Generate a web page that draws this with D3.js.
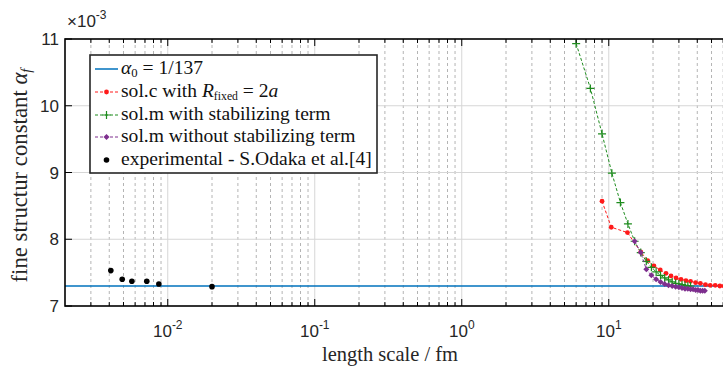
<!DOCTYPE html>
<html><head><meta charset="utf-8">
<script src="https://cdn.jsdelivr.net/npm/d3@7"></script>
<style>body{margin:0;background:#fff}</style>
</head><body>
<svg id="chart" width="723" height="372"></svg>
<script>
// values of the fine structure constant are in units of 1e-3
const alpha0 = 1000 / 137;

const expX = [0.0041, 0.0049, 0.0057, 0.0072, 0.0087, 0.020];
const expY = [7.53, 7.40, 7.37, 7.37, 7.33, 7.29];

const solCX = [9, 10.4, 13.4, 16.5, 18.4, 20.3, 22.4, 24.5, 26.5, 28.7, 31, 33.5, 36, 39, 42, 45.5, 49, 53, 57, 61];
const solCY = [8.57, 8.18, 8.10, 7.81, 7.68, 7.60, 7.54, 7.49, 7.45, 7.42, 7.40, 7.38, 7.37, 7.35, 7.34, 7.32, 7.31, 7.31, 7.30, 7.30];

const solMX = [6, 7.5, 9, 10.5, 12, 13.5, 15, 16.5, 18, 19.5, 21, 22.5, 24, 25.5, 27, 28.5, 30, 31.5, 33, 34.5, 36];
const solMY = [10.93, 10.26, 9.58, 8.99, 8.55, 8.23, 7.97, 7.80, 7.67, 7.58, 7.51, 7.46, 7.42, 7.39, 7.36, 7.34, 7.33, 7.32, 7.31, 7.30, 7.30];

const solM0X = [15, 16.5, 18, 19.5, 21, 22.5, 24, 25.5, 27, 28.5, 30, 31.5, 33, 34.5, 36, 37.5, 39, 40.5, 42, 43.5, 45];
const solM0Y = [7.97, 7.80, 7.55, 7.46, 7.40, 7.36, 7.33, 7.31, 7.30, 7.29, 7.28, 7.27, 7.26, 7.26, 7.25, 7.25, 7.24, 7.24, 7.23, 7.23, 7.23];

const yTicks = [7, 8, 9, 10, 11];
const xDecades = [-2, -1, 0, 1];

const C = {blue: "#0072BD", red: "#FF1A1A", green: "#1E8C1E", purple: "#7E2F8E", black: "#000"};

const svg = d3.select("#chart");
const L = 65, T = 39, B = 306, R = 733;
const x = d3.scaleLog().domain([0.002, 70]).range([L, R]);
const y = d3.scaleLinear().domain([7, 11]).range([B, T]);

svg.append("clipPath").attr("id", "plotclip")
  .append("rect").attr("x", L).attr("y", T).attr("width", R - L).attr("height", B - T);

const grid = svg.append("g");
// minor vertical grid (dotted)
const minor = [];
for (let e = -3; e <= 1; e++) for (let m = 2; m <= 9; m++) {
  const v = m * Math.pow(10, e);
  if (v > 0.002 && v < 70) minor.push(v);
}
grid.selectAll(".mg").data(minor).join("line")
  .attr("x1", d => x(d)).attr("x2", d => x(d)).attr("y1", T).attr("y2", B)
  .attr("stroke", "#b4b4b4").attr("stroke-width", 1).attr("stroke-dasharray", "3,3");
// major grid
grid.selectAll(".Mg").data(xDecades).join("line")
  .attr("x1", d => x(Math.pow(10, d))).attr("x2", d => x(Math.pow(10, d))).attr("y1", T).attr("y2", B)
  .attr("stroke", "#d6d6d6").attr("stroke-width", 1);
grid.selectAll(".My").data(yTicks.slice(1, -1)).join("line")
  .attr("x1", L).attr("x2", R).attr("y1", d => y(d)).attr("y2", d => y(d))
  .attr("stroke", "#d6d6d6").attr("stroke-width", 1);

// data
const plot = svg.append("g").attr("clip-path", "url(#plotclip)");
plot.append("line").attr("x1", L).attr("x2", R).attr("y1", y(alpha0)).attr("y2", y(alpha0))
  .attr("stroke", C.blue).attr("stroke-width", 1.5);

function series(xs, ys, color, marker) {
  const pts = xs.map((v, i) => [x(v), y(ys[i])]);
  plot.append("path").attr("d", d3.line()(pts)).attr("fill", "none")
    .attr("stroke", color).attr("stroke-width", 1).attr("stroke-dasharray", "3,2");
  pts.forEach(p => drawMarker(plot, p[0], p[1], color, marker));
}
function drawMarker(g, px, py, color, marker) {
  if (marker === "dot") {
    g.append("circle").attr("cx", px).attr("cy", py).attr("r", 2.4).attr("fill", color);
  } else if (marker === "plus") {
    g.append("path").attr("d", `M${px - 4},${py}H${px + 4}M${px},${py - 4}V${py + 4}`)
      .attr("stroke", color).attr("stroke-width", 1.2);
  } else if (marker === "diamond") {
    g.append("path").attr("d", `M${px},${py - 3}L${px + 3},${py}L${px},${py + 3}L${px - 3},${py}Z`).attr("fill", color);
  } else if (marker === "big") {
    g.append("circle").attr("cx", px).attr("cy", py).attr("r", 2.8).attr("fill", color);
  }
}
series(solCX, solCY, C.red, "dot");
series(solMX, solMY, C.green, "plus");
series(solM0X, solM0Y, C.purple, "diamond");
expX.forEach((v, i) => drawMarker(plot, x(v), y(expY[i]), C.black, "big"));

// axes box and ticks
const ax = svg.append("g").attr("stroke", "#000");
ax.append("rect").attr("x", L).attr("y", T).attr("width", R - L).attr("height", B - T)
  .attr("fill", "none").attr("stroke-width", 1.6);
xDecades.forEach(d => {
  const px = x(Math.pow(10, d));
  ax.append("line").attr("x1", px).attr("x2", px).attr("y1", B).attr("y2", B - 7).attr("stroke-width", 1);
  ax.append("line").attr("x1", px).attr("x2", px).attr("y1", T).attr("y2", T + 7).attr("stroke-width", 1);
});
minor.forEach(v => {
  const px = x(v);
  ax.append("line").attr("x1", px).attr("x2", px).attr("y1", B).attr("y2", B - 4).attr("stroke-width", 1);
  ax.append("line").attr("x1", px).attr("x2", px).attr("y1", T).attr("y2", T + 4).attr("stroke-width", 1);
});
yTicks.forEach(v => {
  ax.append("line").attr("x1", L).attr("x2", L + 7).attr("y1", y(v)).attr("y2", y(v)).attr("stroke-width", 1);
});

// tick labels
const sans = "'Liberation Sans', Arial, sans-serif";
const serif = "'Liberation Serif', 'Times New Roman', serif";
svg.selectAll(".yl").data(yTicks).join("text")
  .attr("x", L - 6).attr("y", d => y(d) + 6).attr("text-anchor", "end")
  .attr("font-family", sans).attr("font-size", 17).attr("fill", "#262626").text(d => d);
xDecades.forEach(d => {
  const t = svg.append("text").attr("x", x(Math.pow(10, d))).attr("y", B + 31)
    .attr("text-anchor", "middle").attr("font-family", sans).attr("font-size", 17).attr("fill", "#262626");
  t.append("tspan").text("10");
  t.append("tspan").attr("dy", -8).attr("font-size", 12).text(d);
});
const ex = svg.append("text").attr("x", L + 2).attr("y", 27).attr("font-family", sans)
  .attr("font-size", 17).attr("fill", "#262626");
ex.append("tspan").text("\u00d710");
ex.append("tspan").attr("dy", -8).attr("font-size", 12).text("-3");

// fit a text element to a target width by adjusting its font size
function fitWidth(sel, w) {
  const cur = sel.node().getComputedTextLength();
  const fs = parseFloat(sel.attr("font-size"));
  const k = w / cur;
  sel.attr("font-size", fs * k);
  sel.selectAll("tspan").each(function () {
    const t = d3.select(this), f = t.attr("font-size"), dy = t.attr("dy");
    if (f) t.attr("font-size", parseFloat(f) * k);
    if (dy) t.attr("dy", parseFloat(dy) * k);
  });
}

// axis titles
const xt = svg.append("text").attr("x", 390).attr("y", 361).attr("text-anchor", "middle")
  .attr("font-family", serif).attr("font-size", 17).attr("fill", "#262626").text("length scale / fm");
fitWidth(xt, 136);
const yt = svg.append("text").attr("transform", `translate(27,${(T + B) / 2 + 3}) rotate(-90)`)
  .attr("text-anchor", "middle").attr("font-family", serif).attr("font-size", 17).attr("fill", "#262626");
yt.append("tspan").text("fine structur constant ");
yt.append("tspan").attr("font-style", "italic").text("\u03b1");
yt.append("tspan").attr("font-style", "italic").attr("font-size", 11).attr("dy", 3).text("f");
fitWidth(yt, 214);

// legend
const lg = svg.append("g");
lg.append("rect").attr("x", 90).attr("y", 55).attr("width", 287).attr("height", 118)
  .attr("fill", "#fff").attr("stroke", "#262626").attr("stroke-width", 1.6);
const rows = [69, 92, 115, 137, 160];
const entries = [
  {color: C.blue, marker: null, dash: null},
  {color: C.red, marker: "dot", dash: "3,2"},
  {color: C.green, marker: "plus", dash: "3,2"},
  {color: C.purple, marker: "diamond", dash: "3,2"},
  {color: C.black, marker: "big", dash: "none"}
];
entries.forEach((e, i) => {
  const cy = rows[i];
  if (e.dash !== "none") {
    lg.append("line").attr("x1", 95).attr("x2", 118).attr("y1", cy).attr("y2", cy)
      .attr("stroke", e.color).attr("stroke-width", e.marker ? 1 : 1.5)
      .attr("stroke-dasharray", e.dash);
  }
  if (e.marker) drawMarker(lg, 106.5, cy, e.color, e.marker);
});
const legendScale = (() => {
  const probe = lg.append("text").attr("font-family", serif).attr("font-size", 17)
    .text("experimental - S.Odaka et al.[4]");
  const k = 251 / probe.node().getComputedTextLength();
  probe.remove();
  return k;
})();
const lfs = 17 * legendScale;
function ltext(i) {
  return lg.append("text").attr("x", 121).attr("y", rows[i] + 5).attr("font-family", serif)
    .attr("font-size", lfs).attr("fill", "#111");
}
let t0 = ltext(0);
t0.append("tspan").attr("font-style", "italic").text("\u03b1");
t0.append("tspan").attr("font-size", lfs * 0.65).attr("dy", 3).text("0");
t0.append("tspan").attr("dy", -3).text(" = 1/137");
let t1 = ltext(1);
t1.append("tspan").text("sol.c with ");
t1.append("tspan").attr("font-style", "italic").text("R");
t1.append("tspan").attr("font-size", lfs * 0.6).attr("dy", 3).text("fixed");
t1.append("tspan").attr("dy", -3).text(" = 2");
t1.append("tspan").attr("font-style", "italic").text("a");
ltext(2).text("sol.m with stabilizing term");
ltext(3).text("sol.m without stabilizing term");
ltext(4).text("experimental - S.Odaka et al.[4]");
</script>
</body></html>
